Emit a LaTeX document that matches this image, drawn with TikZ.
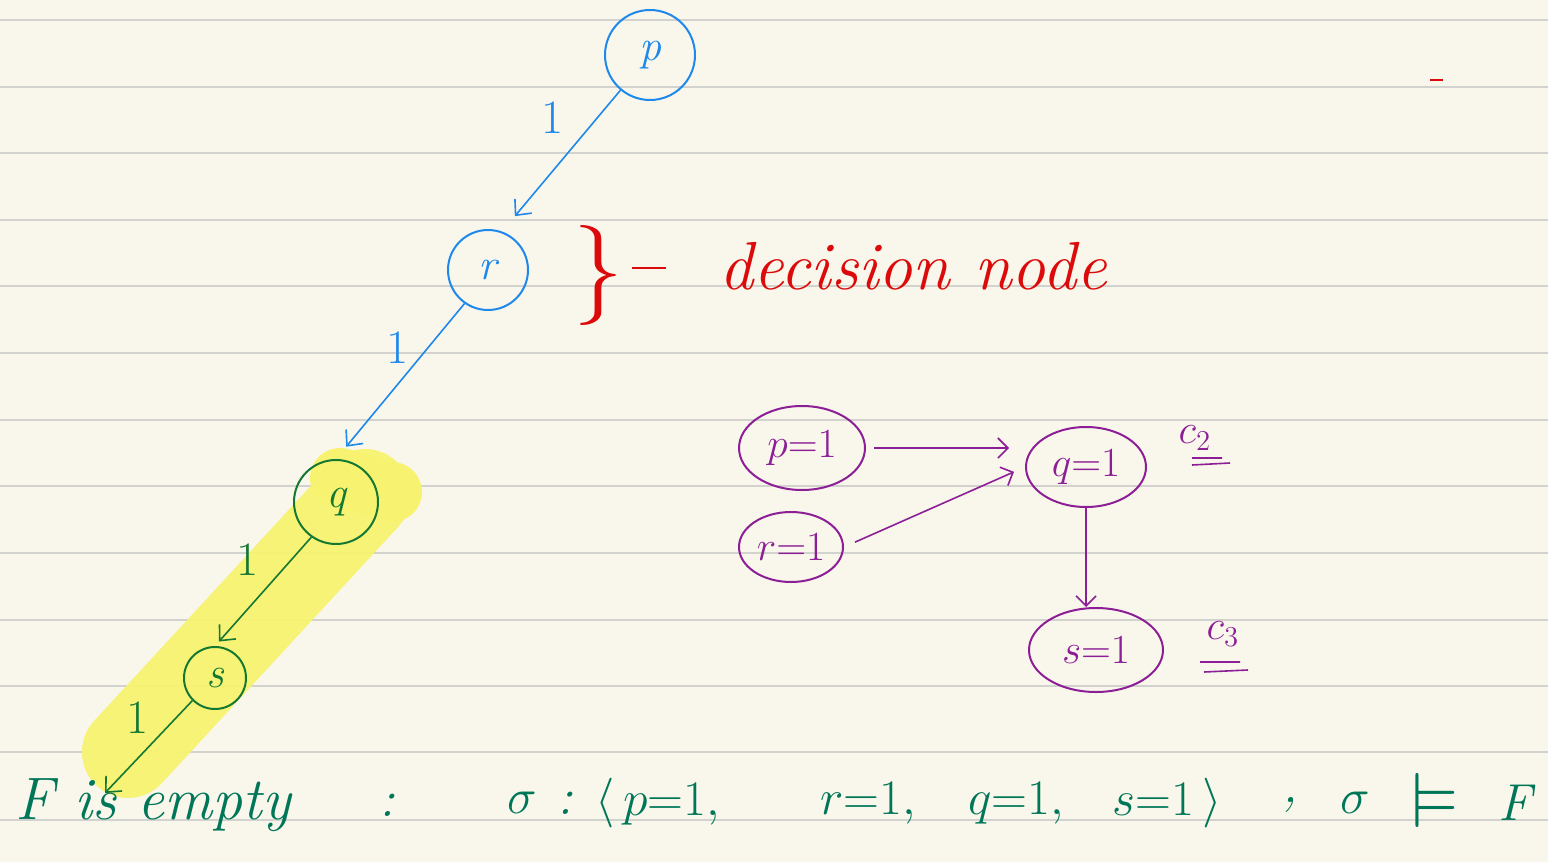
\documentclass[tikz,border=0pt]{standalone}
\usepackage{amssymb}
\usetikzlibrary{arrows.meta,shapes.geometric}
\definecolor{paper}{RGB}{249,247,235}
\definecolor{rule}{RGB}{210,210,206}
\definecolor{penblue}{RGB}{30,136,235}
\definecolor{penred}{RGB}{220,10,10}
\definecolor{pengreen}{RGB}{20,120,50}
\definecolor{penteal}{RGB}{0,118,88}
\definecolor{penpurple}{RGB}{140,30,150}
\definecolor{hilite}{RGB}{247,243,112}
\tikzset{
  bluenode/.style={circle,draw=penblue,line width=1pt,text=penblue,inner sep=0pt,font=\fontsize{22}{24}\selectfont\itshape},
  greennode/.style={circle,draw=pengreen,line width=1pt,text=pengreen,inner sep=0pt,font=\fontsize{22}{24}\selectfont\itshape},
  purplenode/.style={ellipse,draw=penpurple,line width=1pt,text=penpurple,inner sep=0pt,font=\fontsize{22}{24}\selectfont},
  bluearrow/.style={draw=penblue,line width=0.8pt,-{Straight Barb[length=6pt,width=11pt]}},
  greenarrow/.style={draw=pengreen,line width=0.8pt,-{Straight Barb[length=6pt,width=11pt]}},
  purplearrow/.style={draw=penpurple,line width=0.8pt,-{Straight Barb[length=5pt,width=10pt]}},
  edgelabel/.style={font=\fontsize{24}{26}\selectfont},
  teal text/.style={text=penteal,font=\fontsize{26}{28}\selectfont\itshape,inner sep=0pt},
}
\begin{document}
\begin{tikzpicture}[x=0.5pt,y=-0.5pt]
\useasboundingbox (0,0) rectangle (1548,862);
\fill[paper] (0,0) rectangle (1548,862);
\foreach \yy in {20,87,153,220,286,353,420,486,553,620,686,752,820}
  \draw[rule,line width=1pt] (0,\yy) -- (1548,\yy);
% highlight band
\draw[hilite,line width=46pt,line cap=round,opacity=0.95] (365,495) -- (128,752);
\draw[hilite,line width=30pt,line cap=round] (340,478) -- (392,492);
% left tree
\node[bluenode,minimum size=45pt] (p) at (650,55) {p};
\node[bluenode,minimum size=40pt] (r) at (488,270) {r};
\node[greennode,minimum size=42pt] (q) at (336,502) {q};
\node[greennode,minimum size=31pt] (s) at (215,678) {s};
\coordinate (tipF) at (105,793);
\draw[bluearrow,shorten >=10pt] (p.230) -- (r.70);
\draw[bluearrow,shorten >=8pt] (r.235) -- (q.north);
\draw[greenarrow,shorten >=3pt] (q.235) -- (s.north);
\draw[greenarrow] (s.225) -- (tipF);
\node[edgelabel,text=penblue] (l1) at (553,118) {1};
\node[edgelabel,text=penblue] (l2) at (398,348) {1};
\node[edgelabel,text=pengreen] (l3) at (248,560) {1};
\node[edgelabel,text=pengreen] (l4) at (138,718) {1};
% decision node annotation
\node[text=penred,font=\fontsize{50}{52}\selectfont] (brace) at (598,275) {\}};
\draw[penred,line width=1.2pt] (632,268) -- (666,268);
\node[text=penred,font=\fontsize{34}{36}\selectfont\itshape,anchor=west] (dec) at (712,266) {decision node};
\draw[penred,line width=1pt] (1430,80) -- (1443,80);
% right implication graph
\node[purplenode,minimum width=63pt,minimum height=42pt] (p1) at (802,448) {$p{=}1$};
\node[purplenode,minimum width=52pt,minimum height=35pt] (r1) at (791,547) {$r{=}1$};
\node[purplenode,minimum width=60pt,minimum height=40pt] (q1) at (1086,467) {$q{=}1$};
\node[purplenode,minimum width=67pt,minimum height=42pt] (s1) at (1096,650) {$s{=}1$};
\draw[purplearrow,shorten <=4pt,shorten >=8pt] (p1.east) -- (p1.east -| q1.west);
\draw[purplearrow,shorten <=6pt,shorten >=6pt] (r1.east) -- (q1.west);
\draw[purplearrow] (q1.south) -- (q1.south |- s1.north);
\node[text=penpurple,font=\fontsize{22}{24}\selectfont] (c2) at (1195,438) {$c_2$};
\draw[penpurple,line width=0.8pt] (1192,458) -- (1222,458) (1192,465) -- (1230,463);
\node[text=penpurple,font=\fontsize{22}{24}\selectfont] (c3) at (1223,634) {$c_3$};
\draw[penpurple,line width=0.8pt] (1200,662) -- (1240,662) (1204,672) -- (1248,670);
% bottom line
\node[teal text,font=\fontsize{30}{32}\selectfont\itshape,anchor=west] (fempty) at (15,805) {F is empty};
\node[teal text] (colon) at (387,805) {:};
\node[teal text] (sig1) at (522,803) {$\sigma$};
\node[teal text] (colon2) at (565,803) {:};
\node[teal text,anchor=west] (a1) at (595,803) {$\langle\, p{=}1,$};
\node[teal text,anchor=west] (a2) at (820,803) {$r{=}1,$};
\node[teal text,anchor=west] (a3) at (968,803) {$q{=}1,$};
\node[teal text,anchor=west] (a4) at (1112,803) {$s{=}1\,\rangle$};
\node[teal text] (comma) at (1290,805) {,};
\node[teal text] (sig2) at (1355,803) {$\sigma$};
\node[teal text] (models) at (1435,800) {\scalebox{1.5}{$\vDash$}};
\node[teal text] (ff) at (1515,803) {F};
\end{tikzpicture}
\end{document}
